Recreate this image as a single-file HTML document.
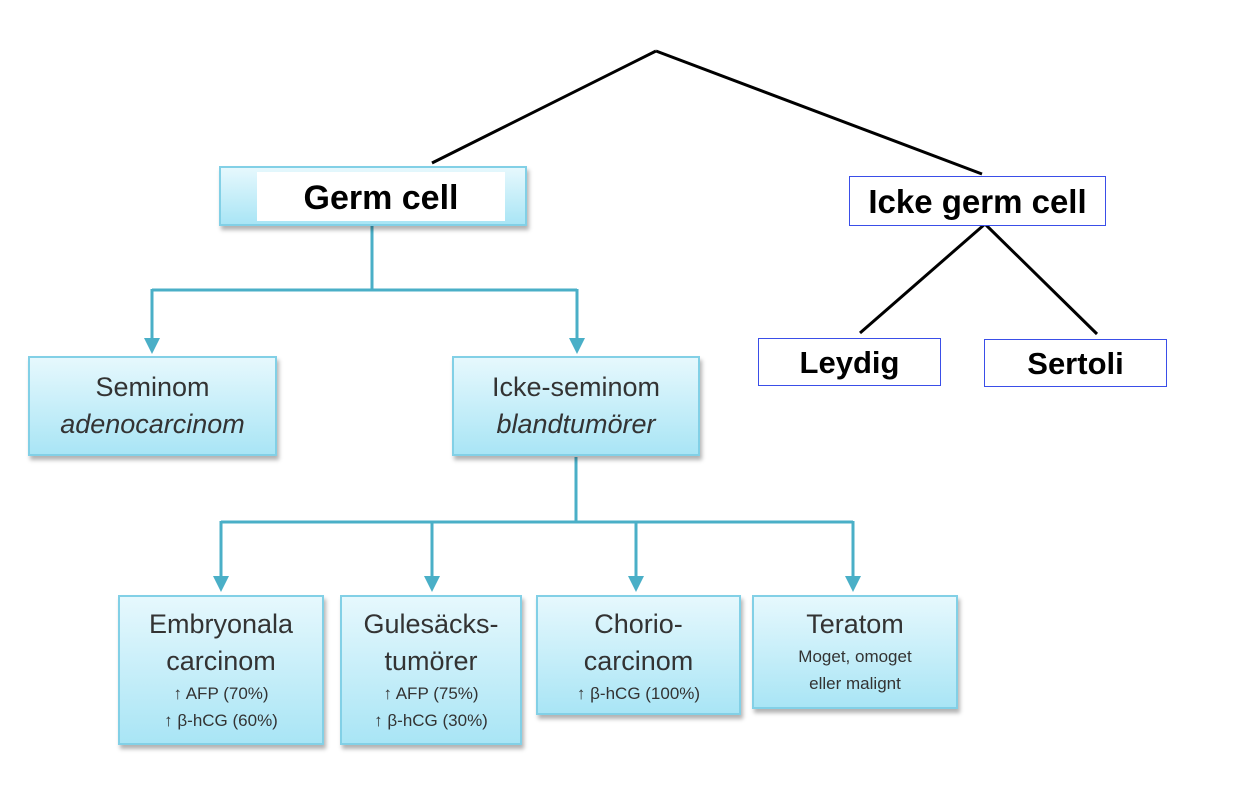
<!DOCTYPE html>
<html><head><meta charset="utf-8"><style>
body{margin:0;width:1248px;height:798px;background:#fff;position:relative;overflow:hidden;font-family:"Liberation Sans","DejaVu Sans",sans-serif}
.b{position:absolute;box-sizing:border-box;border:2px solid #82d0e6;background:linear-gradient(#e6f8fd,#a9e5f5);box-shadow:2px 4px 4px rgba(0,0,0,.3);text-align:center;color:#333}
.w{position:absolute;box-sizing:border-box;border:1.5px solid #3a4ee8;background:#fff;font-weight:bold;text-align:center;color:#000;white-space:nowrap}
.t{font-size:27px;line-height:37px;white-space:nowrap}
.s{font-size:17px;line-height:27px;white-space:nowrap}
svg{position:absolute;left:0;top:0}
</style></head><body>
<svg width="1248" height="798">
<g stroke="#000" stroke-width="3" fill="none">
<line x1="656" y1="51" x2="432" y2="163"/>
<line x1="656" y1="51" x2="982" y2="174"/>
<line x1="985" y1="224" x2="860" y2="333"/>
<line x1="985" y1="224" x2="1097" y2="334"/>
</g>
<g stroke="#4aafc7" stroke-width="3" fill="none">
<line x1="372" y1="226" x2="372" y2="290"/>
<line x1="152" y1="290" x2="577" y2="290"/>
<line x1="152" y1="289" x2="152" y2="340"/>
<line x1="577" y1="289" x2="577" y2="340"/>
<line x1="576" y1="457" x2="576" y2="522"/>
<line x1="221" y1="522" x2="853" y2="522"/>
<line x1="221" y1="521" x2="221" y2="578"/>
<line x1="432" y1="521" x2="432" y2="578"/>
<line x1="636" y1="521" x2="636" y2="578"/>
<line x1="853" y1="521" x2="853" y2="578"/>
</g>
<g fill="#4aafc7">
<polygon points="144,338 160,338 152,354"/>
<polygon points="569,338 585,338 577,354"/>
<polygon points="213,576 229,576 221,592"/>
<polygon points="424,576 440,576 432,592"/>
<polygon points="628,576 644,576 636,592"/>
<polygon points="845,576 861,576 853,592"/>
</g>
</svg>
<div class="b" style="left:219px;top:166px;width:308px;height:60px"></div>
<div style="position:absolute;left:257px;top:172px;width:248px;height:49px;background:#fff;font-weight:bold;font-size:34px;line-height:52px;text-align:center;color:#000;white-space:nowrap">Germ cell</div>
<div class="w" style="left:849px;top:176px;width:257px;height:50px;font-size:33px;line-height:50px">Icke germ cell</div>
<div class="w" style="left:758px;top:338px;width:183px;height:48px;font-size:31px;line-height:47px">Leydig</div>
<div class="w" style="left:984px;top:339px;width:183px;height:48px;font-size:31px;line-height:47px">Sertoli</div>
<div class="b" style="left:28px;top:356px;width:249px;height:100px;padding-top:11px"><div class="t">Seminom</div><div class="t" style="font-style:italic">adenocarcinom</div></div>
<div class="b" style="left:452px;top:356px;width:248px;height:100px;padding-top:11px"><div class="t">Icke-seminom</div><div class="t" style="font-style:italic">blandtumörer</div></div>
<div class="b" style="left:118px;top:595px;width:206px;height:150px;padding-top:9px"><div class="t">Embryonala</div><div class="t">carcinom</div><div class="s">↑ AFP (70%)</div><div class="s">↑ β-hCG (60%)</div></div>
<div class="b" style="left:340px;top:595px;width:182px;height:150px;padding-top:9px"><div class="t">Gulesäcks-</div><div class="t">tumörer</div><div class="s">↑ AFP (75%)</div><div class="s">↑ β-hCG (30%)</div></div>
<div class="b" style="left:536px;top:595px;width:205px;height:120px;padding-top:9px"><div class="t">Chorio-</div><div class="t">carcinom</div><div class="s">↑ β-hCG (100%)</div></div>
<div class="b" style="left:752px;top:595px;width:206px;height:114px;padding-top:9px"><div class="t">Teratom</div><div class="s">Moget, omoget</div><div class="s">eller malignt</div></div>
</body></html>
